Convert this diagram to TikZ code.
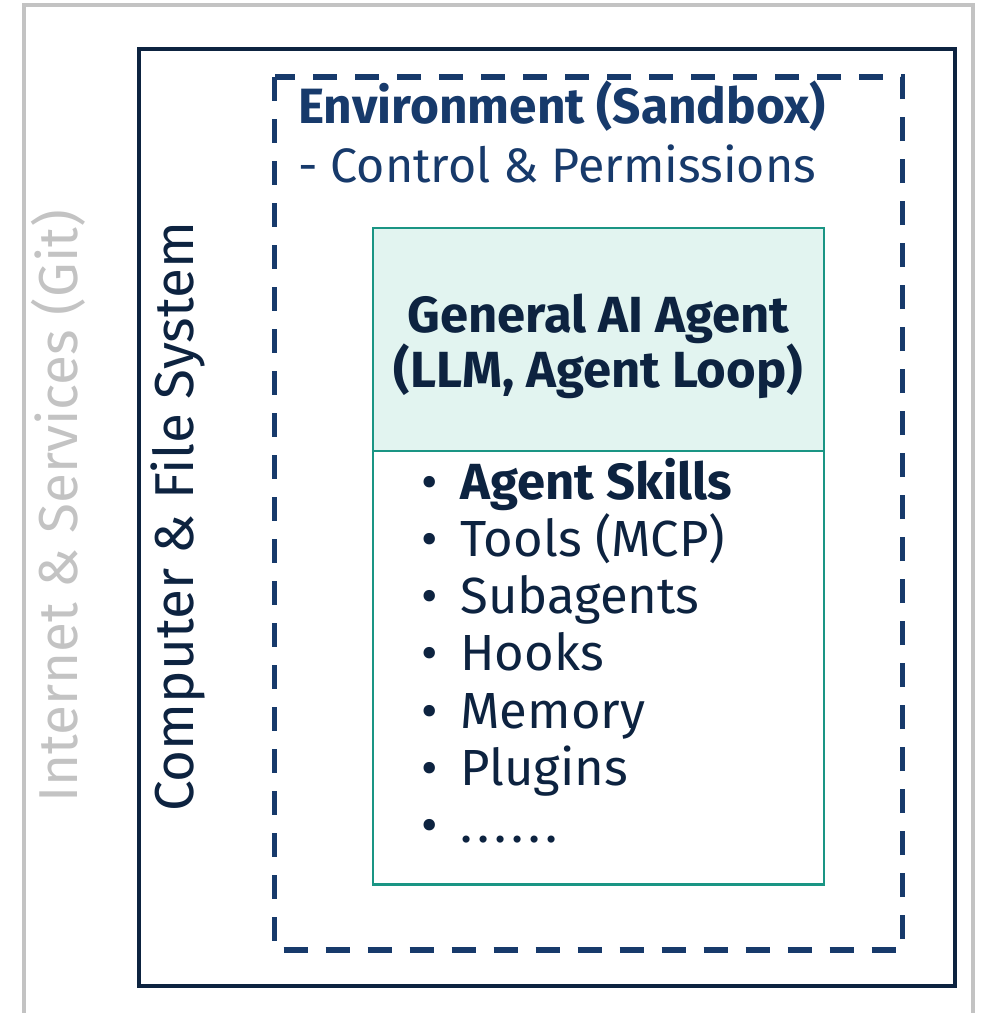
\documentclass[tikz,border=0pt]{standalone}
\usepackage{fontspec}
\setmainfont{Fira Sans}
\usepackage{xcolor}
\definecolor{navy}{HTML}{0D2340}
\definecolor{envblue}{HTML}{173A6B}
\definecolor{netgray}{HTML}{C3C3C3}
\definecolor{agentteal}{HTML}{1A9584}
\definecolor{agentfill}{HTML}{E2F4F0}

\begin{document}
\begin{tikzpicture}[x=0.5pt,y=-0.5pt,
  every node/.style={inner sep=0pt},
  sidelabel/.style={rotate=90,anchor=base west,font=\fontsize{27.4}{32}\selectfont},
  envlabel/.style={anchor=base west,text=envblue,font=\fontsize{24.2}{28}\selectfont},
  agentlabel/.style={anchor=base,text=navy,font=\fontsize{25.4}{30}\selectfont\bfseries},
  item/.style={anchor=base west,text=navy,font=\fontsize{25.4}{30}\selectfont},
  itemdot/.style={anchor=base,text=navy,font=\fontsize{25.4}{30}\selectfont}]
\useasboundingbox (0,0) rectangle (984,1013);
% internet: open at the bottom
\draw[netgray,line width=1.8pt] (24,1013) -- (24,4.7) -- (973,4.7) -- (973,1013);
\node[sidelabel,text=netgray] (internet) at (77,803) {Internet \& Services (Git)};
% computer
\draw[navy,line width=2pt] (138.7,48.7) rectangle (955,986);
\node[sidelabel,text=navy] (computer) at (193,812) {Computer \& File System};
% sandbox
\draw[envblue,line width=2.6pt,dash pattern=on 12pt off 9pt] (274.5,77) rectangle (902.5,950);
\node[envlabel,font=\fontsize{24.8}{28}\selectfont\bfseries] (env) at (298,123) {Environment (Sandbox)};
\node[envlabel] (perm) at (298,182) {- Control \& Permissions};
% agent box with header
\fill[agentfill] (373,228) rectangle (824,451);
\draw[agentteal,line width=1.1pt] (373,228) rectangle (824,884.5);
\draw[agentteal,line width=1.1pt] (373,451) -- (824,451);
\node[agentlabel] (agentname) at (598.5,332) {General AI Agent};
\node[agentlabel] (agentloop) at (598.5,387) {(LLM, Agent Loop)};
\foreach \txt [count=\i from 0] in {{\textbf{Agent Skills}},{Tools (MCP)},{Subagents},{Hooks},{Memory},{Plugins},
    {.\kern2.4pt.\kern2.4pt.\kern2.4pt.\kern2.4pt.\kern2.4pt.}} {
  \node[itemdot] (dot\i) at (430,{499+57.3*\i}) {•};
  \node[item] (item\i) at (460,{499+57.3*\i}) {\txt};
}
\end{tikzpicture}
\end{document}
